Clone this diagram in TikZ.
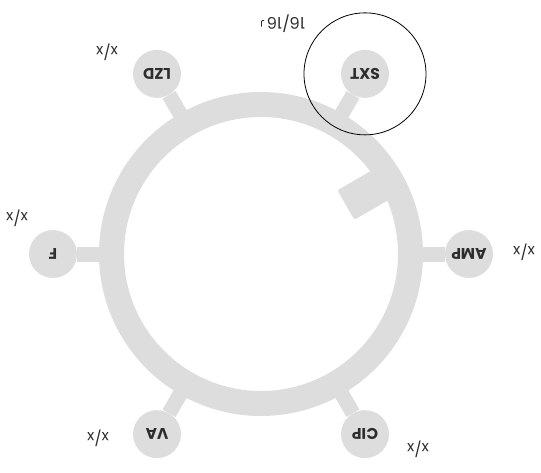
\documentclass[tikz,border=0pt]{standalone}
\usepackage{fontspec}
\setmainfont{Poppins}
\definecolor{ringgray}{RGB}{221,221,221}
\definecolor{inkgray}{RGB}{45,45,45}
\tikzset{
  drug/.style={circle,fill=ringgray,minimum size=48pt,inner sep=0pt,
    font=\fontsize{15.5}{15.5}\selectfont\bfseries,text=inkgray,rotate=180},
  spoke/.style={ringgray,line width=15pt},
  ratio/.style={font=\fontsize{15}{15}\selectfont,text=inkgray,rotate=180,inner sep=0pt},
}
\begin{document}
\begin{tikzpicture}[x=1pt,y=1pt]
\useasboundingbox (-261,-218) rectangle (280,254);
% ring and the tab on its inside
\draw[ringgray,line width=25pt] (0,0) circle[radius=149.5];
\fill[ringgray,rotate=30,rounded corners=2pt] (98,-17) rectangle (145,17);
% discs on spokes
\foreach \n/\a/\t in {amp/0/AMP,sxt/60/SXT,lzd/120/LZD,f/180/F,va/240/VA,cip/300/CIP}
{
\node[drug] (\n) at (\a:208) {\t};
\draw[spoke] (\a:150) -- (\n);
}
\node[draw,circle,minimum size=122pt,inner sep=0pt,line width=0.8pt] (mark) at (sxt) {};
% counts
\node[ratio] (amp-r) at (263,2) {x/x};
\node[ratio] (f-r) at (-244,36) {x/x};
\node[ratio] (va-r) at (-163,-184) {x/x};
\node[ratio] (cip-r) at (157,-195) {x/x};
\node[ratio] (lzd-r) at (-154,202) {x/x};
\node[ratio,font=\fontsize{16}{16}\selectfont] (sxt-r) at (25,230) {16/16};
\draw[inkgray,line width=0.8pt] (0.6,227.3) -- (0.6,232.6) .. controls (0.8,233.6) and (2,233.8) .. (3.2,233.6);
\end{tikzpicture}
\end{document}
